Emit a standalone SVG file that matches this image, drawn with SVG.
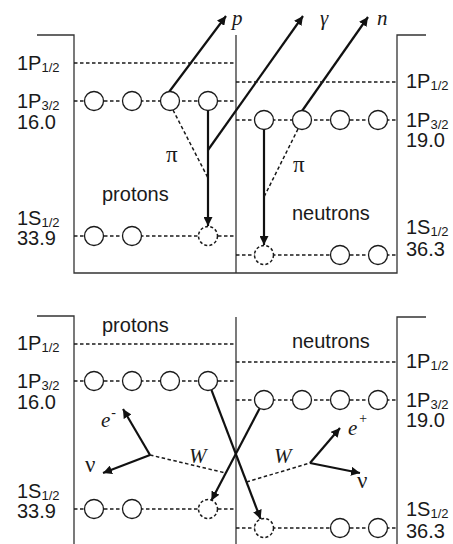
<svg xmlns="http://www.w3.org/2000/svg" width="453" height="544" viewBox="0 0 453 544">
<defs>
<style>
.frame{fill:none;stroke:#333;stroke-width:1.3}
.lvl{fill:none;stroke:#1a1a1a;stroke-width:1.4;stroke-dasharray:3.5 2.5}
.orb{fill:#fff;stroke:#1a1a1a;stroke-width:1.3}
.hole{fill:#fff;stroke:#1a1a1a;stroke-width:1.5;stroke-dasharray:3 2.2}
.arr{fill:none;stroke:#111;stroke-width:2.2}
.pi{fill:none;stroke:#1a1a1a;stroke-width:1.5;stroke-dasharray:3.5 2.5}
.lab{font-family:"Liberation Sans",Arial,sans-serif;font-size:20px;fill:#1a1a1a}
.sub{font-size:13px}
.it{font-family:"Liberation Serif","Times New Roman",serif;font-style:italic;font-size:21px;fill:#1a1a1a}
.gr{font-family:"Liberation Serif","Times New Roman",serif;font-size:23px;fill:#1a1a1a}
</style>
<marker id="ah" viewBox="0 0 10 10" refX="10" refY="5" markerWidth="9" markerHeight="9" markerUnits="userSpaceOnUse" orient="auto">
<path d="M0,0 L10,5 L0,10 z" fill="#111"/>
</marker>
</defs>

<!-- ===== TOP PANEL ===== -->
<g id="frame-top">
<path class="frame" d="M37,35 H74 V273 H397 V35 H426"/>
<path class="frame" d="M236,35 V273"/>
</g>

<g id="connectors-top">
<path class="arr" d="M169,92 L226,16" marker-end="url(#ah)"/>
<path class="arr" d="M208,110.5 V226" marker-end="url(#ah)"/>
<path class="arr" d="M208,150 L303,16" marker-end="url(#ah)"/>
<path class="arr" d="M302,111 L368,17" marker-end="url(#ah)"/>
<path class="pi" d="M173,110 L208,178"/>
<path class="arr" d="M264,129.5 V245" marker-end="url(#ah)"/>
<path class="pi" d="M298,129 L264,197"/>
</g>

<g id="proton-levels-top">
<line class="lvl" x1="74" y1="63" x2="236" y2="63"/>
<line class="lvl" x1="74" y1="101" x2="236" y2="101"/>
<line class="lvl" x1="74" y1="236" x2="236" y2="236"/>
<circle class="orb" cx="94" cy="101" r="9.5"/>
<circle class="orb" cx="132" cy="101" r="9.5"/>
<circle class="orb" cx="170" cy="101" r="9.5"/>
<circle class="orb" cx="208" cy="101" r="9.5"/>
<circle class="orb" cx="94" cy="236" r="9.5"/>
<circle class="orb" cx="132" cy="236" r="9.5"/>
<circle class="hole" cx="208" cy="236" r="9.5"/>
</g>

<g id="neutron-levels-top">
<line class="lvl" x1="236" y1="82" x2="397" y2="82"/>
<line class="lvl" x1="236" y1="120" x2="397" y2="120"/>
<line class="lvl" x1="236" y1="255" x2="397" y2="255"/>
<circle class="orb" cx="264" cy="120" r="9.5"/>
<circle class="orb" cx="302" cy="120" r="9.5"/>
<circle class="orb" cx="340" cy="120" r="9.5"/>
<circle class="orb" cx="378" cy="120" r="9.5"/>
<circle class="hole" cx="264" cy="255" r="9.5"/>
<circle class="orb" cx="340" cy="255" r="9.5"/>
<circle class="orb" cx="378" cy="255" r="9.5"/>
</g>

<g id="labels-top">
<text class="lab" x="17" y="70">1P<tspan class="sub" dy="2">1/2</tspan></text>
<text class="lab" x="17" y="108">1P<tspan class="sub" dy="2">3/2</tspan></text>
<text class="lab" x="17" y="129">16.0</text>
<text class="lab" x="17" y="225">1S<tspan class="sub" dy="2">1/2</tspan></text>
<text class="lab" x="17" y="245">33.9</text>
<text class="lab" x="406" y="88">1P<tspan class="sub" dy="2">1/2</tspan></text>
<text class="lab" x="406" y="127">1P<tspan class="sub" dy="2">3/2</tspan></text>
<text class="lab" x="406" y="147">19.0</text>
<text class="lab" x="406" y="234">1S<tspan class="sub" dy="2">1/2</tspan></text>
<text class="lab" x="406" y="256">36.3</text>
<text class="lab" x="102" y="201">protons</text>
<text class="lab" x="292" y="220">neutrons</text>
<text class="gr" x="166" y="162">π</text>
<text class="gr" x="293" y="172">π</text>
<text class="it" x="232" y="25">p</text>
<text class="it" x="320" y="25">γ</text>
<text class="it" x="377" y="25">n</text>
</g>

<!-- ===== BOTTOM PANEL ===== -->
<g id="frame-bottom">
<path class="frame" d="M37,316 H74 V544"/>
<path class="frame" d="M236,317 V544"/>
<path class="frame" d="M426,317 H397 V544"/>
</g>

<g id="connectors-bottom">
<path class="arr" d="M211.4,389.9 L260.6,519" marker-end="url(#ah)"/>
<path class="arr" d="M259.6,408.4 L211.4,500.6" marker-end="url(#ah)"/>
<path class="pi" d="M150,455 L225.8,473"/>
<path class="pi" d="M246.5,482 L310,463"/>
<path class="arr" d="M150,455 L123,409" marker-end="url(#ah)"/>
<path class="arr" d="M150,455 L103,473" marker-end="url(#ah)"/>
<path class="arr" d="M310,463 L340,428" marker-end="url(#ah)"/>
<path class="arr" d="M310,463 L360,473" marker-end="url(#ah)"/>
</g>

<g id="proton-levels-bottom">
<line class="lvl" x1="74" y1="344" x2="236" y2="344"/>
<line class="lvl" x1="74" y1="381" x2="236" y2="381"/>
<line class="lvl" x1="74" y1="509" x2="236" y2="509"/>
<circle class="orb" cx="94" cy="381" r="9.5"/>
<circle class="orb" cx="132" cy="381" r="9.5"/>
<circle class="orb" cx="170" cy="381" r="9.5"/>
<circle class="orb" cx="208" cy="381" r="9.5"/>
<circle class="orb" cx="94" cy="509" r="9.5"/>
<circle class="orb" cx="132" cy="509" r="9.5"/>
<circle class="hole" cx="208" cy="509" r="9.5"/>
</g>

<g id="neutron-levels-bottom">
<line class="lvl" x1="236" y1="362" x2="397" y2="362"/>
<line class="lvl" x1="236" y1="400" x2="397" y2="400"/>
<line class="lvl" x1="236" y1="528" x2="397" y2="528"/>
<circle class="orb" cx="264" cy="400" r="9.5"/>
<circle class="orb" cx="302" cy="400" r="9.5"/>
<circle class="orb" cx="340" cy="400" r="9.5"/>
<circle class="orb" cx="378" cy="400" r="9.5"/>
<circle class="hole" cx="264" cy="528" r="9.5"/>
<circle class="orb" cx="340" cy="528" r="9.5"/>
<circle class="orb" cx="378" cy="528" r="9.5"/>
</g>

<g id="labels-bottom">
<text class="lab" x="17" y="350">1P<tspan class="sub" dy="2">1/2</tspan></text>
<text class="lab" x="17" y="388">1P<tspan class="sub" dy="2">3/2</tspan></text>
<text class="lab" x="17" y="409">16.0</text>
<text class="lab" x="17" y="498">1S<tspan class="sub" dy="2">1/2</tspan></text>
<text class="lab" x="17" y="518">33.9</text>
<text class="lab" x="406" y="368">1P<tspan class="sub" dy="2">1/2</tspan></text>
<text class="lab" x="406" y="407">1P<tspan class="sub" dy="2">3/2</tspan></text>
<text class="lab" x="406" y="427">19.0</text>
<text class="lab" x="406" y="516">1S<tspan class="sub" dy="2">1/2</tspan></text>
<text class="lab" x="406" y="538">36.3</text>
<text class="lab" x="102" y="332">protons</text>
<text class="lab" x="292" y="348">neutrons</text>
<text class="it" x="101" y="427">e<tspan font-size="14" dx="1" dy="-10">-</tspan></text>
<text class="gr" x="85" y="472">ν</text>
<text class="it" x="189" y="463">W</text>
<text class="it" x="274" y="463">W</text>
<text class="it" x="348" y="435">e<tspan font-size="14" dx="1" dy="-12">+</tspan></text>
<text class="gr" x="357" y="488">ν</text>
</g>
</svg>
